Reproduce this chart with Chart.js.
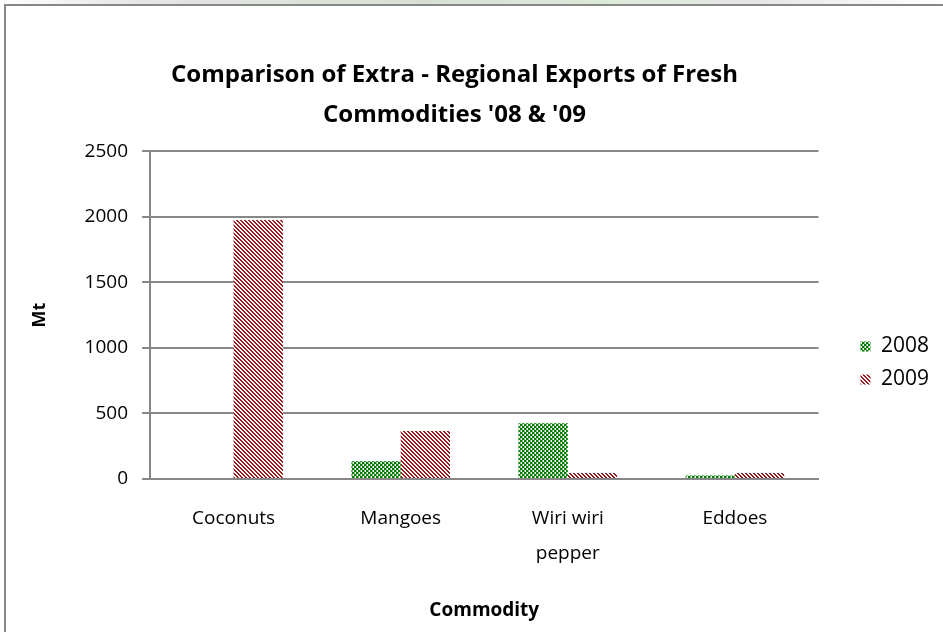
<!DOCTYPE html>
<html>
<head>
<meta charset="utf-8">
<script src="https://cdn.jsdelivr.net/npm/chart.js@4.4.1/dist/chart.umd.min.js"></script>
<style>
    html, body { margin: 0; padding: 0; background: #fff; overflow: hidden; }
    #strip { position: absolute; left: 0; top: 0; width: 943px; height: 5px;
             background: linear-gradient(90deg, #fff 0%, #e3e6e3 15%, #d9dfd6 45%, #dcebd9 65%, #e6e6e6 80%, #fff 100%); }
    #frame { position: absolute; left: 4px; top: 4px; width: 1000px; height: 1000px;
             border: 2px solid #878787; pointer-events: none; }
    #c { position: absolute; left: 0; top: 0; }
</style>
</head>
<body>
<div id="strip"></div>
<canvas id="c" width="943" height="632"></canvas>
<div id="frame"></div>
<script>
const categories = ['Coconuts', 'Mangoes', ['Wiri wiri', 'pepper'], 'Eddoes'];
const seriesNames = ['2008', '2009'];
const exports2008 = [0, 135, 425, 25];
const exports2009 = [1975, 365, 45, 45];
const yTicks = [0, 500, 1000, 1500, 2000, 2500];

// small tiles for the bar fills
function makePattern(draw) {
    const tile = document.createElement('canvas');
    tile.width = 4;
    tile.height = 4;
    const tctx = tile.getContext('2d');
    tctx.fillStyle = '#ffffff';
    tctx.fillRect(0, 0, 4, 4);
    draw(tctx);
    return tctx.createPattern(tile, 'repeat');
}

const greenChecks = makePattern((t) => {
    t.fillStyle = '#007a00';
    t.fillRect(0, 0, 2, 2);
    t.fillRect(2, 2, 2, 2);
    t.fillStyle = '#7dbf7d';
    t.fillRect(2, 0, 1, 2);
    t.fillRect(0, 2, 1, 2);
});

const redStripes = makePattern((t) => {
    t.fillStyle = '#9b1c1c';
    for (let y = 0; y < 4; y++) {
        for (let x = 0; x < 4; x++) {
            const d = ((x - y) % 4 + 4) % 4;
            if (d === 0 || d === 1) t.fillRect(x, y, 1, 1);
        }
    }
});

Chart.defaults.font.family = '"Open Sans", Lato, sans-serif';
Chart.defaults.color = '#000';

const legendOffset = { dx: 30, dy: 47 };
const nudgeLegend = {
    id: 'nudgeLegend',
    afterLayout(chart) {
        const lg = chart.legend;
        if (!lg) return;
        lg.left += legendOffset.dx;
        lg.right += legendOffset.dx;
        lg.top += legendOffset.dy;
        lg.bottom += legendOffset.dy;
    },
};

const gridColor = '#878787';

new Chart(document.getElementById('c').getContext('2d'), {
    type: 'bar',
    data: {
        labels: categories,
        datasets: [
            {
                label: seriesNames[0],
                data: exports2008,
                backgroundColor: greenChecks,
                borderWidth: 0,
            },
            {
                label: seriesNames[1],
                data: exports2009,
                backgroundColor: redStripes,
                borderWidth: 0,
            },
        ],
    },
    options: {
        responsive: false,
        animation: false,
        devicePixelRatio: 1,
        datasets: { bar: { categoryPercentage: 0.59, barPercentage: 1 } },
        layout: { padding: { left: 0, right: 34, top: 0, bottom: 0 } },
        plugins: {
            title: {
                display: true,
                text: ["Comparison of Extra - Regional Exports of Fresh", "Commodities '08 & '09"],
                font: { size: 24, weight: 'bold', lineHeight: 1.67 },
                color: '#000',
                padding: { top: 55, bottom: 16 },
            },
            legend: {
                position: 'right',
                labels: {
                    boxWidth: 10,
                    boxHeight: 10,
                    padding: 12,
                    font: { size: 21 },
                    color: '#000',
                },
            },
            tooltip: { enabled: false },
        },
        scales: {
            x: {
                grid: { display: false, drawTicks: false },
                border: { display: true, color: gridColor, width: 2 },
                ticks: { padding: 22, font: { size: 19, lineHeight: 1.85 } },
                title: {
                    display: true,
                    text: 'Commodity',
                    font: { size: 19, weight: 'bold' },
                    padding: { top: 6, bottom: 10 },
                },
            },
            y: {
                min: 0,
                max: 2500,
                afterBuildTicks: (scale) => {
                    scale.ticks = yTicks.map((v) => ({ value: v }));
                },
                grid: { color: gridColor, lineWidth: 2, tickLength: 8 },
                border: { display: true, color: gridColor, width: 2 },
                ticks: {
                    padding: 14,
                    font: { size: 19 },
                    callback: (v) => String(v),
                },
                title: {
                    display: true,
                    text: 'Mt',
                    font: { size: 18, weight: 'bold' },
                    padding: { top: 29, bottom: 20 },
                },
            },
        },
    },
    plugins: [nudgeLegend],
});
</script>
</body>
</html>
